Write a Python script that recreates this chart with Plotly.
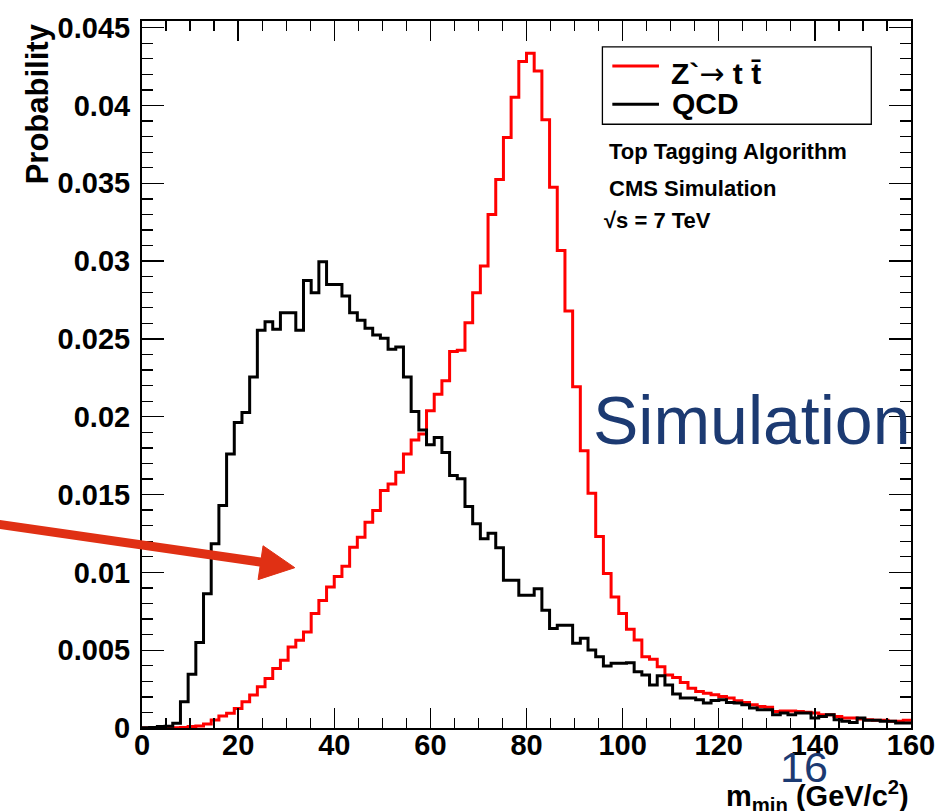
import plotly.graph_objects as go

# ---------------- data ----------------
bin_width = 1.6
n_bins = 100

qcd = [0.00002, 0.00004, 0.00010, 0.00012, 0.00030, 0.00169, 0.00346, 0.00549, 0.00863, 0.01184,
       0.01429, 0.01761, 0.01963, 0.02028, 0.02256, 0.02556, 0.02611, 0.02562, 0.02669, 0.02669,
       0.02556, 0.02876, 0.02797, 0.02996, 0.02850, 0.02850, 0.02776, 0.02669, 0.02620, 0.02568,
       0.02526, 0.02504, 0.02434, 0.02449, 0.02256, 0.02034, 0.01915, 0.01820, 0.01867, 0.01771,
       0.01622, 0.01601, 0.01423, 0.01312, 0.01216, 0.01252, 0.01158, 0.00949, 0.00949, 0.00853,
       0.00853, 0.00895, 0.00756, 0.00639, 0.00660, 0.00660, 0.00544, 0.00576, 0.00501, 0.00458,
       0.00399, 0.00416, 0.00416, 0.00420, 0.00362, 0.00341, 0.00277, 0.00335, 0.00277, 0.00218,
       0.00192, 0.00192, 0.00181, 0.00160, 0.00177, 0.00181, 0.00164, 0.00160, 0.00149, 0.00128,
       0.00117, 0.00117, 0.00085, 0.00096, 0.00085, 0.00096, 0.00096, 0.00064, 0.00074, 0.00085,
       0.00053, 0.00043, 0.00036, 0.00064, 0.00050, 0.00050, 0.00043, 0.00043, 0.00032, 0.00032]

zprime = [0.00000, 0.00000, 0.00000, 0.00001, 0.00002, 0.00003, 0.00009, 0.00013, 0.00026, 0.00051,
          0.00077, 0.00094, 0.00126, 0.00169, 0.00212, 0.00265, 0.00318, 0.00383, 0.00436, 0.00521,
          0.00564, 0.00617, 0.00735, 0.00820, 0.00906, 0.00974, 0.01040, 0.01162, 0.01226, 0.01322,
          0.01397, 0.01526, 0.01568, 0.01643, 0.01761, 0.01850, 0.01889, 0.02038, 0.02145, 0.02231,
          0.02419, 0.02427, 0.02604, 0.02797, 0.02968, 0.03299, 0.03524, 0.03795, 0.04053, 0.04282,
          0.04335, 0.04222, 0.03908, 0.03474, 0.03068, 0.02679, 0.02192, 0.01781, 0.01508, 0.01231,
          0.00992, 0.00842, 0.00736, 0.00634, 0.00565, 0.00458, 0.00442, 0.00394, 0.00341, 0.00324,
          0.00292, 0.00256, 0.00234, 0.00224, 0.00213, 0.00202, 0.00192, 0.00175, 0.00164, 0.00149,
          0.00138, 0.00134, 0.00106, 0.00109, 0.00109, 0.00106, 0.00102, 0.00096, 0.00085, 0.00085,
          0.00074, 0.00064, 0.00064, 0.00058, 0.00053, 0.00050, 0.00050, 0.00043, 0.00043, 0.00050]

x_range = [0, 160]
y_range = [0, 0.04543]
x_title = "<b>m<sub>min</sub> (GeV/c<sup>2</sup>)</b>"
y_title = "<b>Probability</b>"
legend_labels = ["Z`<span style='font-family:DejaVu Sans;font-weight:normal'>\u2192</span> t t\u0304",
                 "QCD"]
info_lines = ["Top Tagging Algorithm", "CMS Simulation", "\u221As = 7 TeV"]

edges = [i * bin_width for i in range(n_bins + 1)]

# ---------------- layout geometry ----------------
W, H = 947, 811
X0, X1, Y0, Y1 = 142, 917, 18, 728          # frame in window pixels
L, T = X0, Y0
PW, PH = X1 - X0, Y1 - Y0
R, B = W - L - PW, H - T - PH


def fx(px):
    return (px - X0) / PW


def fy(py):
    return (Y1 - py) / PH


FONT = "Liberation Sans, Arial, Helvetica, sans-serif"
BLUE = "#1c3a72"

fig = go.Figure()
fig.add_trace(go.Scatter(x=edges, y=zprime + [zprime[-1]], mode="lines",
                         line=dict(color="#ff0000", width=3, shape="hv"),
                         showlegend=False, hoverinfo="skip"))
fig.add_trace(go.Scatter(x=edges, y=qcd + [qcd[-1]], mode="lines",
                         line=dict(color="#000000", width=3, shape="hv"),
                         showlegend=False, hoverinfo="skip"))

axis_common = dict(showgrid=False, zeroline=False, showline=True, linecolor="black",
                   linewidth=2, mirror="ticks", ticks="inside", tickcolor="black",
                   tickwidth=1.3,
                   tickfont=dict(family=FONT, size=29, color="black", weight="bold"))

fig.update_xaxes(range=x_range, dtick=20, tick0=0, ticklen=20,
                 minor=dict(dtick=5, ticklen=10, ticks="inside", tickcolor="black", tickwidth=1.3),
                 ticklabelstandoff=-10, **axis_common)
fig.update_yaxes(range=y_range, dtick=0.005, tick0=0, ticklen=22,
                 minor=dict(dtick=0.001, ticklen=11, ticks="inside", tickcolor="black", tickwidth=1.3),
                 ticklabelstandoff=4, **axis_common)

shapes = []
# legend box
shapes.append(dict(type="rect", xref="paper", yref="paper", x0=fx(606), x1=fx(877),
                   y0=fy(121.7), y1=fy(44), line=dict(color="black", width=1.3),
                   fillcolor="white", layer="above"))
shapes.append(dict(type="line", xref="paper", yref="paper", x0=fx(616), x1=fx(663),
                   y0=fy(63.3), y1=fy(63.3), line=dict(color="#ff0000", width=3)))
shapes.append(dict(type="line", xref="paper", yref="paper", x0=fx(616), x1=fx(663),
                   y0=fy(101.7), y1=fy(101.7), line=dict(color="black", width=3)))
# red arrow
ARROW = "rgb(224,48,20)"
shapes.append(dict(type="line", xref="paper", yref="paper", x0=fx(-5), y0=fy(523),
                   x1=fx(266), y1=fy(562), line=dict(color=ARROW, width=9)))
shapes.append(dict(type="path", xref="paper", yref="paper",
                   path="M {:.5f},{:.5f} L {:.5f},{:.5f} L {:.5f},{:.5f} Z".format(
                       fx(296), fy(567), fx(264), fy(545), fx(259), fy(579)),
                   fillcolor=ARROW, line=dict(color=ARROW, width=1)))

annotations = []


def txt(text, x, y, size, xanchor="left", yanchor="middle", color="black", bold=True, angle=0):
    annotations.append(dict(text=text, x=x, y=y, xref="paper", yref="paper", showarrow=False,
                            xanchor=xanchor, yanchor=yanchor, textangle=angle,
                            font=dict(family=FONT, size=size, color=color,
                                      weight="bold" if bold else "normal")))


txt(legend_labels[0], fx(673), fy(71), 30)
txt(legend_labels[1], fx(674), fy(101), 30)
txt(info_lines[0], fx(611), fy(149), 22)
txt(info_lines[1], fx(611), fy(186), 22)
txt(info_lines[2], fx(606), fy(218), 22)
txt("Simulation", fx(595), fy(419), 68, color=BLUE, bold=False)
txt("16", fx(809), fy(767), 43, xanchor="center", color=BLUE, bold=False)
txt(y_title, fx(37), fy(18), 31, xanchor="center", yanchor="top", angle=-90)
txt(x_title, fx(917), fy(774), 29, xanchor="right", yanchor="top")

fig.update_layout(width=W, height=H, margin=dict(l=L, r=R, t=T, b=B),
                  paper_bgcolor="white", plot_bgcolor="white",
                  shapes=shapes, annotations=annotations, showlegend=False)

# remove the browser's default 8px body margin so the figure fills the window exactly
fig.write_html("out.html", config={"displayModeBar": False, "staticPlot": True},
               post_script="document.body.style.margin='0';document.body.style.overflow='hidden';")
